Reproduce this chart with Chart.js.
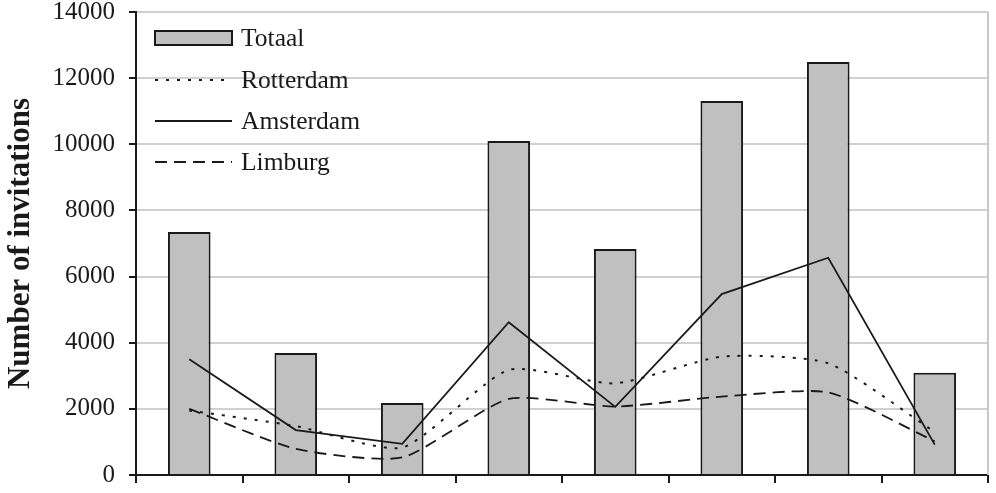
<!DOCTYPE html>
<html>
<head>
<meta charset="utf-8">
<script src="https://cdn.jsdelivr.net/npm/chart.js@4"></script>
<style>
  html, body { margin: 0; padding: 0; background: #fff; }
  #wrap { width: 996px; height: 493px; }
</style>
</head>
<body>
<div id="wrap"><canvas id="invChart"></canvas></div>
<script>
// Data
const categories = ["1", "2", "3", "4", "5", "6", "7", "8"];
const totaal    = [7350, 3690, 2180, 10100, 6830, 11310, 12490, 3090];
const rotterdam = [1950, 1480, 830, 3180, 2770, 3580, 3380, 1300];
const amsterdam = [3500, 1360, 940, 4620, 2060, 5470, 6570, 920];
const limburg   = [2000, 790, 530, 2300, 2070, 2370, 2500, 1020];
const yTicks    = [0, 2000, 4000, 6000, 8000, 10000, 12000, 14000];

const serif = "'Liberation Serif', 'Times New Roman', serif";
const ink = "#1a1a1a";

// legend drawn inside the plot area, top-left
const innerLegend = {
  id: "innerLegend",
  afterDraw(chart) {
    const ctx = chart.ctx;
    const area = chart.chartArea;
    const x0 = area.left + 19, x1 = area.left + 96;
    const rows = [38, 80, 121, 162];
    ctx.save();
    chart.data.datasets.forEach((ds, i) => {
      const y = rows[i];
      ctx.strokeStyle = ink;
      if (ds.type === "bar") {
        ctx.fillStyle = ds.backgroundColor;
        ctx.lineWidth = 2;
        ctx.fillRect(x0, y - 7, x1 - x0, 14);
        ctx.strokeRect(x0, y - 7, x1 - x0, 14);
      } else {
        ctx.lineWidth = 2;
        ctx.setLineDash(ds.borderDash || []);
        ctx.beginPath();
        ctx.moveTo(x0, y);
        ctx.lineTo(x1, y);
        ctx.stroke();
        ctx.setLineDash([]);
      }
      ctx.fillStyle = ink;
      ctx.font = "25.5px " + serif;
      ctx.textBaseline = "middle";
      ctx.fillText(ds.label, x1 + 9, y + 1);
    });
    ctx.restore();
  }
};

// gray right edge of the plot area
const rightEdge = {
  id: "rightEdge",
  beforeDatasetsDraw(chart) {
    const ctx = chart.ctx;
    const a = chart.chartArea;
    ctx.save();
    ctx.strokeStyle = "#c8c8c8";
    ctx.lineWidth = 2;
    ctx.beginPath();
    ctx.moveTo(a.right, a.top);
    ctx.lineTo(a.right, a.bottom);
    ctx.stroke();
    ctx.restore();
  }
};

new Chart(document.getElementById("invChart"), {
  data: {
    labels: categories,
    datasets: [
      {
        type: "bar",
        label: "Totaal",
        data: totaal,
        backgroundColor: "#c0c0c0",
        borderColor: ink,
        borderWidth: 2,
        categoryPercentage: 1,
        barPercentage: 0.4,
        order: 1
      },
      {
        type: "line",
        label: "Rotterdam",
        data: rotterdam,
        borderColor: ink,
        borderWidth: 2,
        borderDash: [3, 8],
        tension: 0.2,
        pointRadius: 0,
        fill: false,
        order: 0
      },
      {
        type: "line",
        label: "Amsterdam",
        data: amsterdam,
        borderColor: ink,
        borderWidth: 1.8,
        tension: 0,
        pointRadius: 0,
        fill: false,
        order: 0
      },
      {
        type: "line",
        label: "Limburg",
        data: limburg,
        borderColor: ink,
        borderWidth: 1.8,
        borderDash: [12, 7],
        tension: 0.2,
        pointRadius: 0,
        fill: false,
        order: 0
      }
    ]
  },
  options: {
    responsive: true,
    maintainAspectRatio: false,
    animation: false,
    layout: { padding: { top: 12, right: 8, left: 0, bottom: 0 } },
    plugins: {
      legend: { display: false },
      tooltip: { enabled: false }
    },
    scales: {
      x: {
        offset: true,
        grid: {
          offset: true,
          drawOnChartArea: false,
          color: ink,
          tickLength: 8,
          lineWidth: 2
        },
        border: { color: ink, width: 2 },
        ticks: { display: false },
        afterFit(scale) {
          scale.height = 18;
          scale.paddingLeft = 0;
          scale.paddingRight = 0;
        }
      },
      y: {
        min: 0,
        max: 14000,
        afterBuildTicks(scale) {
          scale.ticks = yTicks.map(v => ({ value: v }));
        },
        grid: {
          color: "#d0d0d0",
          lineWidth: 2,
          tickColor: ink,
          tickLength: 7
        },
        border: { color: ink, width: 2 },
        ticks: {
          color: ink,
          padding: 14,
          font: { family: serif, size: 25 },
          callback: v => String(v)
        },
        title: {
          display: true,
          text: "Number of invitations",
          color: ink,
          padding: { top: 2, bottom: 0 },
          font: { family: serif, size: 31, weight: "bold" }
        },
        afterFit(scale) {
          scale.width = 136;
          scale.paddingTop = 0;
          scale.paddingBottom = 0;
        }
      }
    }
  },
  plugins: [innerLegend, rightEdge]
});
</script>
</body>
</html>
